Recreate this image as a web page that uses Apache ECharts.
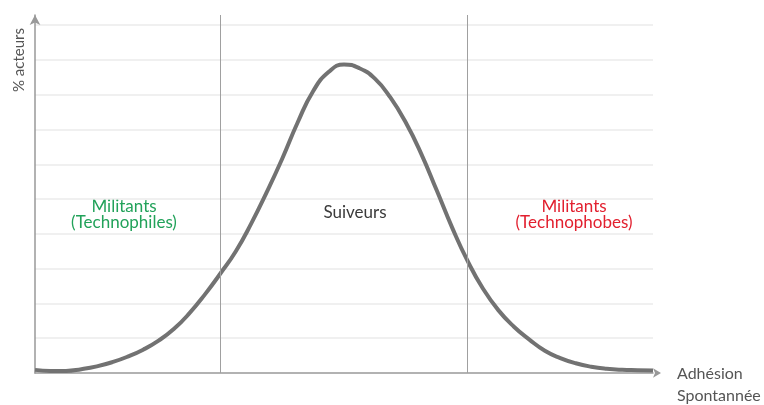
<!DOCTYPE html>
<html>
<head>
<meta charset="utf-8">
<script src="https://cdn.jsdelivr.net/npm/echarts@6/dist/echarts.min.js"></script>
<style>
  html, body { margin: 0; padding: 0; background: #fff; }
  #adoption { width: 764px; height: 405px; }
</style>
</head>
<body>
<div id="adoption"></div>
<script>
  // points (x: adhesion 0-100, y: % acteurs)
  var curveX = [0, 2.5, 5, 7.5, 10, 12.5, 15, 17.5, 20, 22.5, 25, 27.5, 30, 32.5, 35, 37.5, 40,
    42.5, 45, 47.5, 50, 52.5, 55, 57.5, 60, 62.5, 65, 67.5, 70, 72.5, 75, 77.5, 80,
    82.5, 85, 87.5, 90, 92.5, 95, 97.5, 100];
  var curveY = [0.09, 0.06, 0.06, 0.11, 0.19, 0.31, 0.47, 0.67, 0.93, 1.27, 1.72, 2.26, 2.86, 3.5, 4.3, 5.2, 6.16,
    7.2, 8.1, 8.65, 8.87, 8.76, 8.46, 7.92, 7.2, 6.3, 5.25, 4.18, 3.22, 2.42, 1.8, 1.33, 0.96,
    0.64, 0.43, 0.28, 0.18, 0.12, 0.09, 0.08, 0.07];
  var separators = [30, 70];
  var zoneNames = ["Militants\n(Technophiles)", "Suiveurs", "Militants\n(Technophobes)"];
  var zoneColors = ["#22a25a", "#3a3a3a", "#e2202f"];
  var xName = "Adhésion\nSpontannée";
  var yName = "% acteurs";

  var font = "Lato, 'Open Sans', sans-serif";
  var curve = curveX.map(function (x, i) { return [x, curveY[i]]; });

  var chart = echarts.init(document.getElementById("adoption"));
  chart.setOption({
    animation: false,
    grid: { left: 35, right: 111, top: 15, bottom: 32, outerBoundsMode: "none", containLabel: false },
    xAxis: {
      type: "value",
      min: 0,
      max: 100,
      axisLine: {
        lineStyle: { color: "#999", width: 1.5 },
        symbol: ["none", "arrow"],
        symbolSize: [7, 8],
        symbolOffset: [0, 8]
      },
      axisTick: { show: false },
      axisLabel: { show: false },
      splitLine: { show: false }
    },
    yAxis: {
      type: "value",
      min: 0,
      max: 10.29,
      interval: 1,
      axisLine: {
        show: true,
        lineStyle: { color: "#999", width: 1.5 },
        symbol: ["none", "arrow"],
        symbolSize: [8, 10]
      },
      axisTick: { show: false },
      axisLabel: { show: false },
      splitLine: { show: true, showMaxLine: false, showMinLine: false, lineStyle: { color: "#ebebeb", width: 1.5 } }
    },
    graphic: [
      {
        type: "text",
        x: 19,
        y: 60,
        rotation: Math.PI / 2,
        style: { text: yName, fill: "#555", font: "15px " + font, align: "center", verticalAlign: "middle" }
      },
      {
        type: "text", x: 677, y: 363,
        style: { text: xName, fill: "#555", font: "16px " + font, lineHeight: 22, align: "left", verticalAlign: "top" }
      },
      {
        type: "text", x: 124, y: 215,
        style: { text: zoneNames[0], fill: zoneColors[0], font: "17px " + font, lineHeight: 16, align: "center", verticalAlign: "middle" }
      },
      {
        type: "text", x: 355, y: 213,
        style: { text: zoneNames[1], fill: zoneColors[1], font: "17px " + font, align: "center", verticalAlign: "middle" }
      },
      {
        type: "text", x: 574, y: 215,
        style: { text: zoneNames[2], fill: zoneColors[2], font: "17px " + font, lineHeight: 16, align: "center", verticalAlign: "middle" }
      }
    ],
    series: [
      {
        type: "line",
        data: curve,
        smooth: 0.5,
        showSymbol: false,
        lineStyle: { color: "#727272", width: 4 },
        markLine: {
          silent: true,
          symbol: ["none", "none"],
          label: { show: false },
          lineStyle: { color: "#a0a0a0", width: 1, type: "solid" },
          data: separators.map(function (v) { return { xAxis: v }; })
        }
      }
    ]
  });
</script>
</body>
</html>
